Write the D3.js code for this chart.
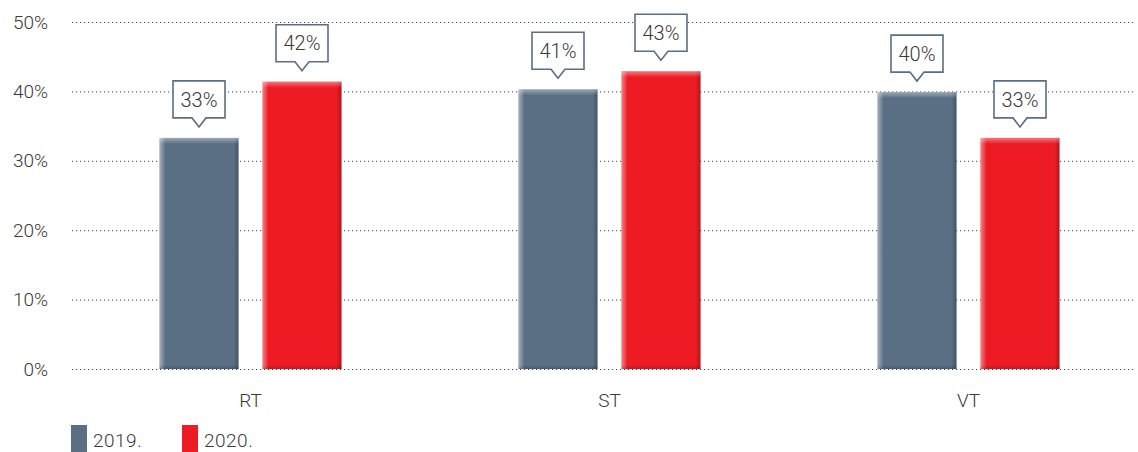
<!DOCTYPE html>
<html>
<head>
<meta charset="utf-8">
<script src="https://cdn.jsdelivr.net/npm/d3@7"></script>
<style>
  body { margin: 0; background: #fff; }
  text { font-family: Roboto, "DejaVu Sans", sans-serif; font-weight: 300; fill: #3a3a3a; }
</style>
</head>
<body>
<script>
// data
var categories = ["RT", "ST", "VT"];
var seriesNames = ["2019.", "2020."];
var values2019 = [33.3, 40.3, 39.9];
var values2020 = [41.4, 42.9, 33.3];
var labels2019 = ["33%", "41%", "40%"];
var labels2020 = ["42%", "43%", "33%"];
var yTicks = [0, 10, 20, 30, 40, 50];

var colors = ["#5b6f84", "#ed1c24"];

var W = 1138, H = 452;

var svg = d3.select("body").append("svg")
    .attr("width", W)
    .attr("height", H);

// scales
var x = d3.scaleBand()
    .domain(categories)
    .range([71, 1148]);
var y = d3.scaleLinear()
    .domain([0, 50])
    .range([369, 22]);

var barW = 79, gap = 12;

// gradients for the soft bar edges
var defs = svg.append("defs");
function grad(id, x2, y2, stops) {
  var g = defs.append("linearGradient").attr("id", id)
      .attr("x1", 0).attr("y1", 0).attr("x2", x2).attr("y2", y2);
  stops.forEach(function(s) {
    g.append("stop").attr("offset", s[0]).attr("stop-color", s[1]).attr("stop-opacity", s[2]);
  });
}
grad("edgeL", 1, 0, [[0, "#fff", 0.45], [1, "#fff", 0]]);
grad("edgeR", 1, 0, [[0, "#000", 0], [1, "#000", 0.25]]);
grad("edgeT", 0, 1, [[0, "#fff", 0.4], [1, "#fff", 0]]);
grad("edgeB", 0, 1, [[0, "#000", 0], [1, "#000", 0.2]]);

// gridlines
svg.append("g").selectAll("line")
    .data(yTicks)
    .enter().append("line")
    .attr("x1", 72)
    .attr("x2", 1135)
    .attr("y1", function(d) { return y(d) + 0.5; })
    .attr("y2", function(d) { return y(d) + 0.5; })
    .attr("stroke", "#444")
    .attr("stroke-width", 1)
    .attr("stroke-dasharray", "1.2,2.8");

// y labels
svg.append("g").selectAll("text")
    .data(yTicks)
    .enter().append("text")
    .attr("x", 48)
    .attr("y", function(d) { return y(d); })
    .attr("dy", "0.35em")
    .attr("text-anchor", "end")
    .attr("font-size", "19px")
    .text(function(d) { return d + "%"; });

// bars
var bars = [];
categories.forEach(function(c, i) {
  var cx = x(c) + x.bandwidth() / 2;
  bars.push({ x: cx - gap - barW, v: values2019[i], label: labels2019[i], color: colors[0] });
  bars.push({ x: cx + gap, v: values2020[i], label: labels2020[i], color: colors[1] });
});

var bg = svg.append("g");
bars.forEach(function(b) {
  var top = y(b.v), h = y(0) - top;
  bg.append("rect").attr("x", b.x).attr("y", top).attr("width", barW).attr("height", h).attr("fill", b.color);
  bg.append("rect").attr("x", b.x).attr("y", top).attr("width", 6).attr("height", h).attr("fill", "url(#edgeL)");
  bg.append("rect").attr("x", b.x + barW - 5).attr("y", top).attr("width", 5).attr("height", h).attr("fill", "url(#edgeR)");
  bg.append("rect").attr("x", b.x).attr("y", top).attr("width", barW).attr("height", 6).attr("fill", "url(#edgeT)");
  bg.append("rect").attr("x", b.x).attr("y", y(0) - 4).attr("width", barW).attr("height", 4).attr("fill", "url(#edgeB)");

  // callout
  var cx = b.x + barW / 2;
  var tip = top - 11, bw = 52, bh = 37, ph = 9, pw = 7;
  var bot = tip - ph, tp = bot - bh;
  var path = "M" + (cx - bw / 2) + "," + tp +
      "H" + (cx + bw / 2) + "V" + bot +
      "H" + (cx + pw) + "L" + cx + "," + tip +
      "L" + (cx - pw) + "," + bot +
      "H" + (cx - bw / 2) + "Z";
  bg.append("path").attr("d", path)
      .attr("fill", "#fff")
      .attr("stroke", "#5b6f84")
      .attr("stroke-width", 1.6)
      .attr("stroke-linejoin", "miter");
  bg.append("text")
      .attr("x", cx)
      .attr("y", tp + bh / 2)
      .attr("dy", "0.36em")
      .attr("text-anchor", "middle")
      .attr("font-size", "20px")
      .text(b.label);
});

// x labels
svg.append("g").selectAll("text")
    .data(categories)
    .enter().append("text")
    .attr("x", function(d) { return x(d) + x.bandwidth() / 2; })
    .attr("y", 400)
    .attr("dy", "0.35em")
    .attr("text-anchor", "middle")
    .attr("font-size", "19px")
    .text(function(d) { return d; });

// legend
var legendX = [71, 182];
seriesNames.forEach(function(s, i) {
  svg.append("rect")
      .attr("x", legendX[i]).attr("y", 425)
      .attr("width", 16).attr("height", 30)
      .attr("fill", colors[i]);
  svg.append("text")
      .attr("x", legendX[i] + 22)
      .attr("y", 447)
      .attr("font-size", "19px")
      .attr("letter-spacing", "0.5px")
      .text(s);
});
</script>
</body>
</html>
